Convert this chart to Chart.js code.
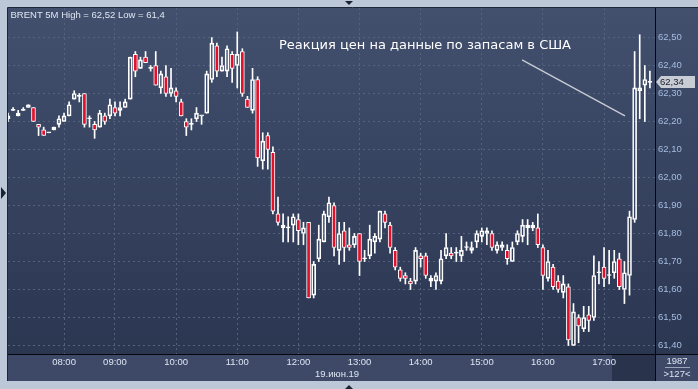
<!DOCTYPE html>
<html>
<head>
<meta charset="utf-8">
<script src="https://cdn.jsdelivr.net/npm/chart.js@4.4.0/dist/chart.umd.min.js"></script>
<style>
html, body { margin: 0; padding: 0; background: #bcc8d8; }
#wrap { width: 698px; height: 389px; }
</style>
</head>
<body>
<div id="wrap"><canvas id="brent-chart" width="698" height="389"></canvas></div>
<script>

// BRENT 5M candles, 19 June 2019 (open / high / low / close)

const opens = [62.21, 62.24, 62.22, 62.24, 62.25, 62.25, 62.19, 62.17, 62.16, 62.17,
    62.19, 62.20, 62.22, 62.28, 62.29, 62.30, 62.21, 62.19, 62.18, 62.22,
    62.22, 62.25, 62.24, 62.25, 62.28, 62.44, 62.39, 62.43, 62.39, 62.40,
    62.32, 62.36, 62.30, 62.31, 62.27, 62.20, 62.19, 62.21, 62.22, 62.23,
    62.35, 62.47, 62.38, 62.38, 62.44, 62.40, 62.45, 62.28, 62.24, 62.35,
    62.06, 62.15, 62.09, 61.87, 61.82, 61.82, 61.83, 61.85, 61.80, 61.84,
    61.58, 61.71, 61.77, 61.86, 61.90, 61.74, 61.81, 61.76, 61.76, 61.80,
    61.71, 61.72, 61.77, 61.78, 61.87, 61.83, 61.74, 61.67, 61.65, 61.63,
    61.63, 61.72, 61.72, 61.63, 61.63, 61.63, 61.72, 61.73, 61.73, 61.72,
    61.75, 61.74, 61.77, 61.79, 61.80, 61.80, 61.74, 61.75, 61.74, 61.70,
    61.77, 61.79, 61.82, 61.82, 61.82, 61.75, 61.64, 61.68, 61.63, 61.59,
    61.61, 61.40, 61.50, 61.46, 61.51, 61.50, 61.66, 61.68, 61.65, 61.66,
    61.71, 61.60, 61.65, 61.85, 62.31, 62.33, 62.34];

const highs = [62.23, 62.25, 62.24, 62.25, 62.26, 62.25, 62.19, 62.18, 62.16, 62.18,
    62.22, 62.23, 62.27, 62.31, 62.30, 62.30, 62.22, 62.20, 62.24, 62.23,
    62.28, 62.27, 62.27, 62.28, 62.43, 62.45, 62.43, 62.45, 62.40, 62.45,
    62.38, 62.40, 62.39, 62.32, 62.28, 62.21, 62.21, 62.25, 62.22, 62.38,
    62.50, 62.48, 62.43, 62.47, 62.45, 62.52, 62.46, 62.29, 62.39, 62.36,
    62.16, 62.16, 62.11, 61.93, 61.87, 61.86, 61.87, 61.87, 61.84, 61.84,
    61.70, 61.83, 61.88, 61.93, 61.91, 61.84, 61.84, 61.82, 61.80, 61.80,
    61.74, 61.83, 61.80, 61.88, 61.88, 61.84, 61.75, 61.68, 61.66, 61.64,
    61.75, 61.73, 61.73, 61.65, 61.66, 61.74, 61.80, 61.75, 61.75, 61.79,
    61.77, 61.77, 61.81, 61.82, 61.82, 61.81, 61.77, 61.77, 61.76, 61.77,
    61.81, 61.85, 61.85, 61.84, 61.87, 61.76, 61.74, 61.69, 61.65, 61.65,
    61.62, 61.55, 61.51, 61.54, 61.54, 61.72, 61.70, 61.75, 61.74, 61.74,
    61.73, 61.70, 61.88, 62.45, 62.51, 62.40, 62.38];

const lows = [62.20, 62.24, 62.22, 62.24, 62.25, 62.20, 62.15, 62.15, 62.16, 62.17,
    62.18, 62.20, 62.22, 62.28, 62.27, 62.18, 62.18, 62.14, 62.18, 62.19,
    62.21, 62.22, 62.22, 62.25, 62.28, 62.36, 62.39, 62.41, 62.38, 62.33,
    62.30, 62.29, 62.29, 62.27, 62.22, 62.15, 62.17, 62.20, 62.19, 62.23,
    62.34, 62.36, 62.38, 62.36, 62.34, 62.32, 62.29, 62.25, 62.23, 62.04,
    62.03, 62.03, 61.87, 61.83, 61.77, 61.77, 61.77, 61.76, 61.76, 61.57,
    61.57, 61.70, 61.77, 61.84, 61.72, 61.69, 61.70, 61.74, 61.75, 61.65,
    61.70, 61.71, 61.73, 61.77, 61.82, 61.73, 61.67, 61.63, 61.62, 61.60,
    61.62, 61.68, 61.64, 61.61, 61.60, 61.62, 61.71, 61.71, 61.70, 61.70,
    61.74, 61.73, 61.75, 61.77, 61.76, 61.74, 61.73, 61.74, 61.69, 61.70,
    61.76, 61.77, 61.76, 61.81, 61.75, 61.60, 61.63, 61.60, 61.59, 61.57,
    61.40, 61.40, 61.41, 61.45, 61.45, 61.49, 61.62, 61.61, 61.62, 61.64,
    61.60, 61.55, 61.58, 61.84, 62.21, 62.20, 62.32];

const closes = [62.22, 62.24, 62.23, 62.24, 62.26, 62.20, 62.18, 62.15, 62.16, 62.18,
    62.21, 62.22, 62.26, 62.30, 62.29, 62.19, 62.21, 62.17, 62.23, 62.20,
    62.26, 62.23, 62.25, 62.27, 62.43, 62.38, 62.42, 62.41, 62.39, 62.33,
    62.37, 62.30, 62.32, 62.29, 62.22, 62.18, 62.19, 62.23, 62.22, 62.37,
    62.48, 62.38, 62.40, 62.46, 62.39, 62.44, 62.30, 62.25, 62.35, 62.07,
    62.13, 62.10, 61.88, 61.84, 61.83, 61.82, 61.86, 61.81, 61.82, 61.57,
    61.69, 61.78, 61.87, 61.91, 61.75, 61.80, 61.75, 61.75, 61.79, 61.70,
    61.71, 61.78, 61.79, 61.88, 61.84, 61.75, 61.68, 61.64, 61.64, 61.62,
    61.74, 61.71, 61.65, 61.64, 61.65, 61.71, 61.75, 61.72, 61.73, 61.74,
    61.75, 61.75, 61.80, 61.81, 61.81, 61.75, 61.76, 61.76, 61.71, 61.75,
    61.80, 61.83, 61.83, 61.83, 61.76, 61.65, 61.70, 61.61, 61.60, 61.62,
    61.42, 61.52, 61.47, 61.50, 61.49, 61.65, 61.66, 61.64, 61.65, 61.70,
    61.61, 61.66, 61.86, 62.32, 62.32, 62.35, 62.34];

// Time axis: hour labels and the candle each one sits on
const hourLabels = ['08:00', '09:00', '10:00', '11:00', '12:00', '13:00', '14:00', '15:00', '16:00', '17:00'];
const hourIndex = [11, 21, 33, 45, 57, 69, 81, 93, 105, 117];

// Price axis ticks
const priceTicks = [61.4, 61.5, 61.6, 61.7, 61.8, 61.9, 62.0, 62.1, 62.2, 62.3, 62.4, 62.5];

// Annotation (candle index, price)
const noteText = 'Реакция цен на данные по запасам в США';
const noteAt = [53.2, 62.47];
const notePointer = [[100.9, 62.42], [121.1, 62.22]];

const dateLabel = '19.июн.19';
const totalBars = '1987';


// Helpers

const fontSmall = '9.5px Arial, "Liberation Sans", sans-serif';
const gridColor = '#55627e';

function comma(v) {
    return String(+v.toFixed(2)).replace('.', ',');
}

let labels = [];
for (let i = 0; i <= opens.length; i++) {
    let k = hourIndex.indexOf(i);
    labels.push(k >= 0 ? hourLabels[k] : '');
}

let bodies = opens.map((o, i) => [o, closes[i]]);
let upperWicks = opens.map((o, i) => [Math.max(o, closes[i]), highs[i]]);
let lowerWicks = opens.map((o, i) => [lows[i], Math.min(o, closes[i])]);
let bodyColors = opens.map((o, i) => closes[i] < o ? '#e3102c' : 'rgba(0,0,0,0)');


// Background, frame and text overlays

const decor = {
    id: 'decor',
    beforeDraw(chart) {
        const ctx = chart.ctx;
        const a = chart.chartArea;
        const W = chart.width, H = chart.height;
        ctx.save();
        ctx.fillStyle = '#bcc8d8';
        ctx.fillRect(0, 0, W, H);

        let g = ctx.createLinearGradient(0, a.top, 0, a.bottom);
        g.addColorStop(0, '#42506e');
        g.addColorStop(1, '#2b3651');
        ctx.fillStyle = g;
        ctx.fillRect(a.left, a.top, W - a.left, a.bottom - a.top);

        ctx.fillStyle = '#3d4967';
        ctx.fillRect(a.left, a.bottom, W - a.left, 27);
        ctx.fillStyle = '#29334c';
        ctx.fillRect(612, a.bottom, a.right - 612, 27);

        // panel edge
        ctx.strokeStyle = '#1f2638';
        ctx.lineWidth = 1;
        ctx.beginPath();
        ctx.moveTo(a.left - 0.5, a.bottom + 27);
        ctx.lineTo(a.left - 0.5, a.top - 0.5);
        ctx.lineTo(W, a.top - 0.5);
        ctx.stroke();

        // little scroll arrows on the frame
        ctx.fillStyle = '#1b2232';
        ctx.beginPath();
        ctx.moveTo(345, 1); ctx.lineTo(353, 1); ctx.lineTo(349, 5); ctx.closePath();
        ctx.moveTo(1, 187); ctx.lineTo(1, 199); ctx.lineTo(6, 193); ctx.closePath();
        ctx.moveTo(345, 389); ctx.lineTo(353, 389); ctx.lineTo(349, 385); ctx.closePath();
        ctx.fill();
        ctx.restore();
    },
    afterDraw(chart) {
        const ctx = chart.ctx;
        const a = chart.chartArea;
        const W = chart.width;
        const xs = chart.scales.x, ys = chart.scales.y;
        ctx.save();

        // axis separators
        ctx.strokeStyle = '#05070c';
        ctx.lineWidth = 1;
        ctx.beginPath();
        ctx.moveTo(a.left, a.bottom + 0.5); ctx.lineTo(W, a.bottom + 0.5);
        ctx.moveTo(a.right + 0.5, a.top); ctx.lineTo(a.right + 0.5, a.bottom + 27);
        ctx.stroke();

        // last price tag
        let last = closes[closes.length - 1];
        let py = Math.round(ys.getPixelForValue(last));
        ctx.fillStyle = '#c7ccd5';
        ctx.beginPath();
        ctx.moveTo(a.right + 1, py);
        ctx.lineTo(a.right + 6, py - 6);
        ctx.lineTo(W - 3, py - 6);
        ctx.lineTo(W - 3, py + 6);
        ctx.lineTo(a.right + 6, py + 6);
        ctx.closePath();
        ctx.fill();
        ctx.font = fontSmall;
        ctx.textBaseline = 'middle';
        ctx.fillStyle = '#1a1d24';
        ctx.fillText(comma(last), a.right + 5, py + 0.5);

        // title
        ctx.fillStyle = '#dfe6f0';
        ctx.fillText('BRENT 5M High = ' + comma(Math.max(...highs)) + ' Low = ' + comma(Math.min(...lows)), 10.5, 15);

        // date and bar counters
        ctx.fillStyle = '#dde5f2';
        ctx.fillText(dateLabel, 315, 374);
        ctx.textAlign = 'center';
        ctx.fillText(totalBars, 677, 361);
        ctx.fillText('>' + opens.length + '<', 677, 374.5);
        ctx.strokeStyle = '#9aa6ba';
        ctx.beginPath();
        ctx.moveTo(665, 367.5); ctx.lineTo(690, 367.5);
        ctx.stroke();

        // annotation
        ctx.textAlign = 'left';
        ctx.font = '13px "DejaVu Sans", Verdana, sans-serif';
        ctx.fillStyle = '#ffffff';
        ctx.fillText(noteText, xs.getPixelForValue(noteAt[0]), ys.getPixelForValue(noteAt[1]));
        ctx.strokeStyle = '#c9ccd3';
        ctx.lineWidth = 1.3;
        ctx.beginPath();
        ctx.moveTo(xs.getPixelForValue(notePointer[0][0]), ys.getPixelForValue(notePointer[0][1]));
        ctx.lineTo(xs.getPixelForValue(notePointer[1][0]), ys.getPixelForValue(notePointer[1][1]));
        ctx.stroke();
        ctx.restore();
    }
};


// Candle chart: bodies and wicks as floating bars

let brentChart = new Chart(document.getElementById('brent-chart').getContext('2d'), {
    type: 'bar',
    data: {
        labels: labels,
        datasets: [{
            data: bodies,
            backgroundColor: bodyColors,
            borderColor: '#ffffff',
            borderWidth: 1,
            borderSkipped: false,
            barThickness: 4,
            minBarLength: 1,
            grouped: false
        }, {
            data: upperWicks,
            backgroundColor: '#ffffff',
            borderWidth: 0,
            barThickness: 1,
            grouped: false
        }, {
            data: lowerWicks,
            backgroundColor: '#ffffff',
            borderWidth: 0,
            barThickness: 1,
            grouped: false
        }]
    },
    options: {
        responsive: false,
        devicePixelRatio: 1,
        animation: false,
        events: [],
        layout: {
            padding: { left: 8, top: 8, right: 0, bottom: 8 }
        },
        plugins: {
            legend: { display: false },
            tooltip: { enabled: false }
        },
        scales: {
            x: {
                type: 'category',
                offset: false,
                grid: {
                    offset: false,
                    drawTicks: false,
                    color: ctx => labels[ctx.index] ? gridColor : 'rgba(0,0,0,0)'
                },
                border: { display: false, dash: [2, 3] },
                ticks: {
                    autoSkip: false,
                    maxRotation: 0,
                    padding: 3,
                    color: '#dde5f2',
                    font: { family: 'Arial, "Liberation Sans", sans-serif', size: 9.5 }
                },
                afterFit: s => { s.height = 27; s.paddingLeft = 0; s.paddingRight = 0; }
            },
            y: {
                position: 'right',
                min: 61.3698,
                max: 62.6055,
                afterBuildTicks: s => { s.ticks = priceTicks.map(v => ({ value: v })); },
                grid: { color: gridColor, drawTicks: false },
                border: { display: false, dash: [2, 3] },
                ticks: {
                    padding: 3,
                    color: '#a6bde0',
                    font: { family: 'Arial, "Liberation Sans", sans-serif', size: 9.5 },
                    callback: v => v.toFixed(2).replace('.', ',')
                },
                afterFit: s => { s.width = 43; s.paddingTop = 0; s.paddingBottom = 0; }
            }
        }
    },
    plugins: [decor]
});

</script>
</body>
</html>
